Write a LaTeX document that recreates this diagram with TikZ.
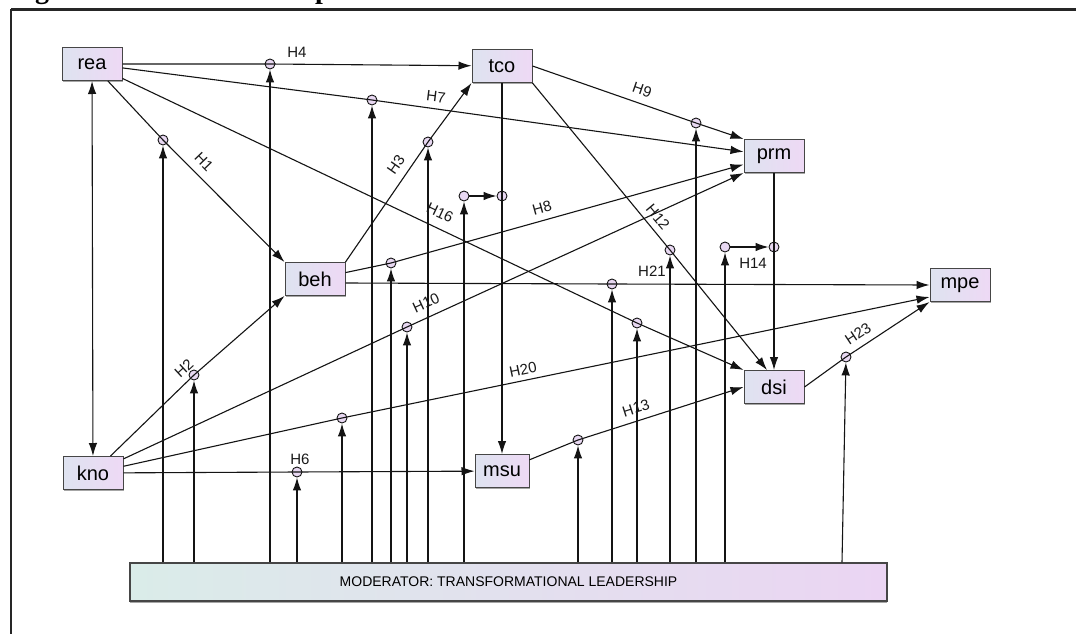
\documentclass[tikz,border=0pt]{standalone}
\usepackage{fontspec}
\setmainfont{Liberation Sans}
\newfontfamily\serifb{Liberation Serif}
\usetikzlibrary{arrows.meta,shadows}
\definecolor{boxL}{RGB}{222,227,240}
\definecolor{boxR}{RGB}{238,217,245}
\definecolor{modL}{RGB}{218,236,233}
\definecolor{modR}{RGB}{235,213,243}
\definecolor{circF}{RGB}{232,216,242}
\definecolor{edgeC}{RGB}{20,20,20}
\definecolor{boxD}{RGB}{70,70,70}
\begin{document}
\begin{tikzpicture}[x=1pt,y=-1pt,
  box/.style={rectangle, draw=boxD, line width=1pt, minimum width=60pt, minimum height=33pt, inner sep=0pt,
     left color=boxL, right color=boxR, font=\fontsize{20}{24}\selectfont,
     drop shadow={shadow xshift=1.2pt, shadow yshift=-1.2pt, opacity=0.35, fill=black}},
  modbox/.style={rectangle, draw=boxD, line width=1.3pt, minimum width=757pt, minimum height=38pt, inner sep=0pt,
     left color=modL, right color=modR, font=\fontsize{14}{16}\selectfont,
     drop shadow={shadow xshift=0pt, shadow yshift=-1.5pt, opacity=0.35, fill=black}},
  mc/.style={circle, draw=edgeC, line width=0.9pt, fill=circF, inner sep=0pt, minimum size=10pt},
  arr/.style={-{Latex[length=13pt,width=8.5pt]}, line width=1.1pt, draw=edgeC},
  dbl/.style={{Latex[length=13pt,width=8.5pt]}-{Latex[length=13pt,width=8.5pt]}, line width=1.1pt, draw=edgeC},
  lbl/.style={inner sep=0pt, text=black!90, font=\fontsize{15}{17}\selectfont},
  tfrag/.style={anchor=base, inner sep=0pt, font=\serifb\bfseries\fontsize{28}{30}\selectfont}
]
\useasboundingbox (0,0) rectangle (1076,634);
\fill[white] (0,0) rectangle (1076,634);

% cut-off title fragments and frame
\begin{scope}
\clip (0,0) rectangle (1076,634);
\node[tfrag] (tg) at (42,-1.5) {g};
\node[tfrag] (tp) at (323,-1.5) {p};
\end{scope}
\draw[line width=2.6pt, black!85] (11,9.5) -- (1076,9.5);
\draw[line width=1.6pt, black!85] (11,9.5) -- (11,634);

% moderation circles
\node[mc] (c1) at (163,140) {};
\node[mc] (c2) at (194,375) {};
\node[mc] (c4) at (270,64) {};
\node[mc] (c6) at (297,472) {};
\node[mc] (c20) at (342,418) {};
\node[mc] (c7) at (372,100) {};
\node[mc] (c8) at (391,263) {};
\node[mc] (c10) at (407,327) {};
\node[mc] (c3) at (428,142) {};
\node[mc] (cA) at (464,196) {};
\node[mc] (cB) at (502,196) {};
\node[mc] (c13) at (578,440) {};
\node[mc] (c21) at (612,284) {};
\node[mc] (c16) at (637,323) {};
\node[mc] (c12) at (670,250) {};
\node[mc] (c9) at (696,123) {};
\node[mc] (cC) at (725,247) {};
\node[mc] (cD) at (774,247) {};
\node[mc] (c23) at (846,357) {};

% construct boxes
\node[box] (rea) at (92,64) {rea};
\node[box] (tco) at (502,66) {tco};
\node[box] (prm) at (774,156) {prm};
\node[box] (mpe) at (960,285) {mpe};
\node[box] (beh) at (315,279) {beh};
\node[box] (kno) at (93,473) {kno};
\node[box, minimum width=54pt] (msu) at (502,471) {msu};
\node[box] (dsi) at (774,387) {dsi};
\node[modbox] (mod) at (508.5,582) {MODERATOR: TRANSFORMATIONAL LEADERSHIP};

% main paths
\draw[arr] (rea) -- (c4.center) -- (tco);
\draw[arr] (rea) -- (c7.center) -- (prm);
\draw[arr] (rea) -- (c1.center) -- (beh.north west);
\draw[arr] (rea) -- (c16.center) -- (dsi.north west);
\draw[dbl] (rea) -- (kno);
\draw[arr] (tco.east) -- (c9.center) -- (prm.north west);
\draw[arr] (tco) -- (cB.center) -- (msu);
\draw[arr] (tco.south east) -- (c12.center) -- ([xshift=-7pt]dsi.north);
\draw[arr] (beh.north east) -- (c3.center) -- (tco.south west);
\draw[arr] (beh) -- (c8.center) -- (prm);
\draw[arr] ([yshift=-4pt]beh.east) -- (c21.center) -- (mpe.west);
\draw[arr] (kno) -- (c2.center) -- (beh.south west);
\draw[arr] (kno) -- (c10.center) -- (prm.south west);
\draw[arr] (kno) -- (c20.center) -- ([yshift=5pt]mpe.south west);
\draw[arr] (kno) -- (c6.center) -- (msu);
\draw[arr] (msu) -- (c13.center) -- (dsi.west);
\draw[arr] (prm) -- (cD.center) -- (dsi);
\draw[arr] (dsi.east) -- (c23.center) -- (mpe.south west);
\draw[arr] (cA) -- (cB);
\draw[arr] (cC) -- (cD);

% moderator arrows
\foreach \c in {c1,c2,c4,c6,c20,c7,c8,c10,c3,cA,c13,c21,c16,c12,c9,cC}
  \draw[arr] (\c |- mod.north) -- (\c);
\draw[arr] ([xshift=-4pt]c23 |- mod.north) -- (c23);

% labels
\node[lbl] (lH4) at (297,52) {H4};
\node[lbl, rotate=-7] (lH7) at (436,97) {H7};
\node[lbl, rotate=-19] (lH9) at (642,90) {H9};
\node[lbl, rotate=-46] (lH1) at (204,162) {H1};
\node[lbl, rotate=55] (lH3) at (396,165) {H3};
\node[lbl, rotate=-25] (lH16) at (440,213) {H16};
\node[lbl, rotate=15.5] (lH8) at (542,208) {H8};
\node[lbl, rotate=-50] (lH12) at (658,217) {H12};
\node[lbl] (lH21) at (652,271) {H21};
\node[lbl] (lH14) at (753,263) {H14};
\node[lbl, rotate=24.7] (lH10) at (426,303) {H10};
\node[lbl, rotate=42.6] (lH2) at (184,368) {H2};
\node[lbl, rotate=11.8] (lH20) at (523,370) {H20};
\node[lbl] (lH6) at (300,459) {H6};
\node[lbl, rotate=17.7] (lH13) at (636,408) {H13};
\node[lbl, rotate=33.5] (lH23) at (858,334) {H23};
\end{tikzpicture}
\end{document}
